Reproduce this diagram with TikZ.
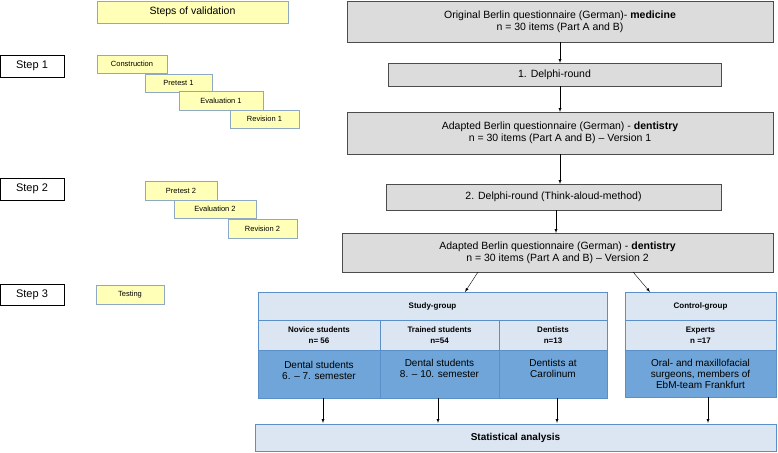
\documentclass[tikz,border=0pt]{standalone}
\usepackage{fontspec}
\setmainfont{Liberation Sans}
\usetikzlibrary{arrows}
\definecolor{stepyellow}{HTML}{FFFFB8}
\definecolor{stepline}{HTML}{8FA9C4}
\definecolor{mainfill}{HTML}{DCDCDC}
\definecolor{lightblue}{HTML}{DCE6F2}
\definecolor{darkblue}{HTML}{6FA5D8}
\definecolor{blueline}{HTML}{5B8FC7}
\tikzset{
  stepbox/.style={draw=stepline,fill=stepyellow,font=\fontsize{7.5}{8.5}\selectfont},
  labelbox/.style={draw=black,thick,font=\fontsize{11}{12}\selectfont},
  mainbox/.style={draw=black!70,fill=mainfill,align=center,font=\fontsize{10.5}{12}\selectfont},
  headbox/.style={draw=blueline,fill=lightblue,align=center,font=\bfseries\fontsize{8}{11}\selectfont},
  bluebox/.style={draw=blueline,fill=darkblue,align=center,font=\fontsize{10}{11}\selectfont},
  arr/.style={-latex,thin}
}
\begin{document}
\begin{tikzpicture}[x=1pt,y=-1pt]
\useasboundingbox (0,0) rectangle (778,452);

% left column
\draw[stepbox] (97,1) rectangle (288,23) node[midway,font=\fontsize{10.5}{12}\selectfont] (valid) {Steps of validation};
\draw[labelbox] (0,55) rectangle (64,77) node[midway] (s1) {Step 1};
\draw[labelbox] (0,178) rectangle (64,200) node[midway] (s2) {Step 2};
\draw[labelbox] (0,284) rectangle (64,305) node[midway] (s3) {Step 3};

\draw[stepbox] (97,55) rectangle (167,73) node[midway] (cons) {Construction};
\draw[stepbox] (145,74) rectangle (212,92) node[midway] (pre1) {Pretest 1};
\draw[stepbox] (179,91) rectangle (263,110) node[midway] (eval1) {Evaluation 1};
\draw[stepbox] (230,110) rectangle (299,128) node[midway] (rev1) {Revision 1};
\draw[stepbox] (145,181) rectangle (217,200) node[midway] (pre2) {Pretest 2};
\draw[stepbox] (174,200) rectangle (256,218) node[midway] (eval2) {Evaluation 2};
\draw[stepbox] (228,219) rectangle (297,238) node[midway] (rev2) {Revision 2};
\draw[stepbox] (96,285) rectangle (164,304) node[midway] (test) {Testing};

% main flow
\draw[mainbox] (347,1) rectangle (773,42) node[midway] (orig) {Original Berlin questionnaire (German)- \textbf{medicine}\\ n = 30 items (Part A and B)};
\draw[mainbox] (388,63) rectangle (721,86) node[midway] (del1) {1. Delphi-round};
\draw[mainbox] (347,112) rectangle (773,154) node[midway] (ver1) {Adapted Berlin questionnaire (German) - \textbf{dentistry}\\ n = 30 items (Part A and B) -- Version 1};
\draw[mainbox] (386,184) rectangle (721,210) node[midway] (del2) {2. Delphi-round (Think-aloud-method)};
\draw[mainbox] (342,233) rectangle (773,272) node[midway] (ver2) {Adapted Berlin questionnaire (German) - \textbf{dentistry}\\ n = 30 items (Part A and B) -- Version 2};

% groups
\draw[headbox] (258,292) rectangle (607,320) node[midway] (study) {Study-group};
\draw[headbox] (625,292) rectangle (776,320) node[midway] (control) {Control-group};
\draw[headbox] (258,320) rectangle (380,350) node[midway] (novH) {Novice students\\ n= 56};
\draw[headbox] (380,320) rectangle (499,350) node[midway] (traH) {Trained students\\ n=54};
\draw[headbox] (499,320) rectangle (607,350) node[midway] (denH) {Dentists\\ n=13};
\draw[headbox] (625,320) rectangle (776,350) node[midway] (expH) {Experts\\ n =17};
\draw[bluebox] (258,350) rectangle (380,398) node[pos=.5,yshift=4] (nov) {Dental students\\ 6. -- 7. semester};
\draw[bluebox] (380,350) rectangle (499,398) node[pos=.5,yshift=6] (tra) {Dental students\\ 8. -- 10. semester};
\draw[bluebox] (499,350) rectangle (607,398) node[pos=.5,yshift=6] (den) {Dentists at\\ Carolinum};
\draw[bluebox] (625,350) rectangle (776,397) node[midway] (exp) {Oral- and maxillofacial\\ surgeons, members of\\ EbM-team Frankfurt};
\draw[headbox] (255,424) rectangle (776,451) node[midway,font=\bfseries\fontsize{10}{11}\selectfont] (stat) {Statistical analysis};

% connectors
\draw[arr] (560,42) -- (560,63);
\draw[arr] (560,86) -- (560,112);
\draw[arr] (560,154) -- (560,184);
\draw[arr] (556,210) -- (556,233);
\draw[arr] (478,272) -- (465,292);
\draw[arr] (633,272) -- (650,292);
\draw[arr] (323,398) -- (323,423);
\draw[arr] (438,398) -- (438,423);
\draw[arr] (557,398) -- (557,423);
\draw[arr] (708,397) -- (708,423);
\end{tikzpicture}
\end{document}
